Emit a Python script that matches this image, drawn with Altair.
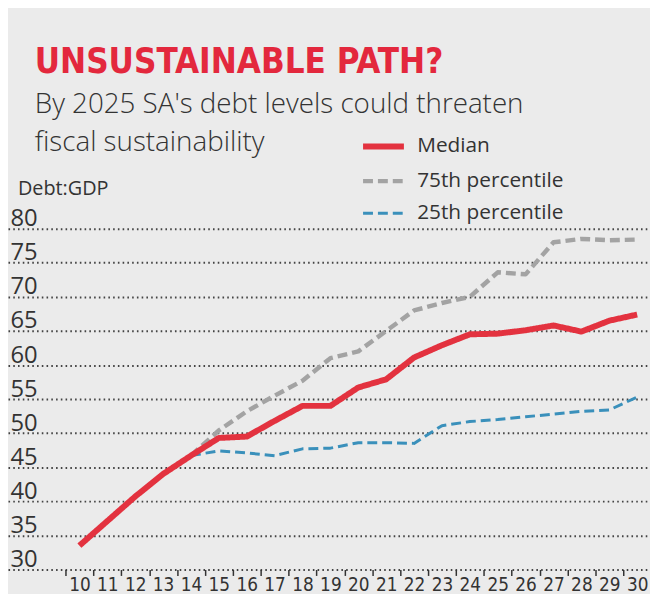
import altair as alt
import pandas as pd

# ---- data ----
years_median = [2010, 2011, 2012, 2013, 2014, 2015, 2016, 2017, 2018, 2019, 2020,
                2021, 2022, 2023, 2024, 2025, 2026, 2027, 2028, 2029, 2030]
median = [33.5, 37.1, 40.7, 44.0, 46.7, 49.3, 49.5, 51.8, 54.0, 54.0, 56.7,
          57.9, 61.1, 62.9, 64.5, 64.6, 65.1, 65.8, 64.9, 66.5, 67.4]

years_pct = [2014, 2015, 2016, 2017, 2018, 2019, 2020, 2021, 2022, 2023, 2024,
             2025, 2026, 2027, 2028, 2029, 2030]
p75 = [46.7, 50.4, 53.2, 55.5, 57.7, 61.0, 62.0, 65.0, 68.0, 69.1, 70.0,
       73.6, 73.3, 78.0, 78.5, 78.3, 78.4]
p25 = [46.7, 47.4, 47.1, 46.7, 47.7, 47.8, 48.6, 48.6, 48.5, 51.1, 51.7,
       52.0, 52.4, 52.8, 53.2, 53.4, 55.3]

series_names = ["Median", "75th percentile", "25th percentile"]
series_colors = ["#e3323f", "#a3a3a3", "#3a90bb"]
series_dash = [[1, 0], [10, 5], [10, 5]]
series_width = [6, 3, 4.5]

x_ticks = list(range(2010, 2031))
y_ticks = [30, 35, 40, 45, 50, 55, 60, 65, 70, 75, 80]

title_text = "UNSUSTAINABLE PATH?"
subtitle_lines = ["By 2025 SA's debt levels could threaten", "fiscal sustainability"]
unit_text = "Debt:GDP"

# ---- build table ----
rows = []
for y, v in zip(years_pct, p75):
    rows.append({"year": y, "value": v, "series": "75th percentile"})
for y, v in zip(years_pct, p25):
    rows.append({"year": y, "value": v, "series": "25th percentile"})
for y, v in zip(years_median, median):
    rows.append({"year": y, "value": v, "series": "Median"})
df = pd.DataFrame(rows)

NARROW = "DejaVu Sans Condensed, sans-serif"
SANS = "Open Sans, Noto Sans, sans-serif"


def legend():
    return alt.Legend(title=None, orient="none", legendX=355, legendY=-107,
                      symbolType="stroke", symbolSize=1700,
                      labelFont=SANS, labelFontSize=21, labelColor="#333",
                      labelOffset=10, rowPadding=-9, labelLimit=400)


lines = alt.Chart(df).mark_line(strokeJoin="round", clip=False).encode(
    x=alt.X("year:Q",
            scale=alt.Scale(domain=[2007.44, 2030.46], nice=False, zero=False),
            axis=alt.Axis(values=x_ticks, title=None, grid=False, domain=False,
                          ticks=True, tickSize=6, tickWidth=1.5, tickColor="#333",
                          tickOffset=-14, labelOffset=14,
                          labelExpr="slice(toString(datum.value), 2)",
                          labelFont=NARROW, labelFontSize=19, labelColor="#333",
                          labelPadding=0, labelFlush=False, labelOverlap=False,
                          labelBound=False)),
    y=alt.Y("value:Q",
            scale=alt.Scale(domain=[30, 80], nice=False, zero=False),
            axis=alt.Axis(values=y_ticks, title=None, grid=True, domain=False,
                          ticks=False, tickSize=0, labelAlign="left",
                          labelBaseline="alphabetic", labelPadding=-2, labelOffset=-3,
                          labelFont=SANS, labelFontSize=24, labelColor="#333",
                          labelFlush=False, labelOverlap=False, labelBound=False,
                          gridColor="#444", gridDash=[1.6, 3.2], gridWidth=2)),
    color=alt.Color("series:N",
                    scale=alt.Scale(domain=series_names, range=series_colors),
                    legend=legend()),
    strokeDash=alt.StrokeDash("series:N",
                              scale=alt.Scale(domain=series_names, range=series_dash),
                              legend=legend()),
    strokeWidth=alt.StrokeWidth("series:N",
                                scale=alt.Scale(domain=series_names, range=series_width),
                                legend=legend()),
)

title = alt.Chart(pd.DataFrame({"t": [title_text]})).mark_text(
    align="left", baseline="alphabetic", font=NARROW, fontWeight="bold",
    fontSize=35, color="#e3283d"
).encode(text="t:N", x=alt.value(27), y=alt.value(-157))

sub1 = alt.Chart(pd.DataFrame({"t": [subtitle_lines[0]]})).mark_text(
    align="left", baseline="alphabetic", font=SANS, fontSize=28, fontWeight=300,
    color="#333"
).encode(text="t:N", x=alt.value(27), y=alt.value(-117))

sub2 = alt.Chart(pd.DataFrame({"t": [subtitle_lines[1]]})).mark_text(
    align="left", baseline="alphabetic", font=SANS, fontSize=28, fontWeight=300,
    color="#333"
).encode(text="t:N", x=alt.value(27), y=alt.value(-78))

unit = alt.Chart(pd.DataFrame({"t": [unit_text]})).mark_text(
    align="left", baseline="alphabetic", font=SANS, fontSize=20, color="#333"
).encode(text="t:N", x=alt.value(10), y=alt.value(-34))

chart = alt.layer(lines, title, sub1, sub2, unit).properties(
    width=648, height=344,
    autosize=alt.AutoSizeParams(type="none"),
    padding={"left": 0, "top": 220, "right": 0, "bottom": 22},
    background="#ebebeb",
).configure_view(stroke=None)

chart.save("out.html", embed_options={"renderer": "svg", "actions": False})
